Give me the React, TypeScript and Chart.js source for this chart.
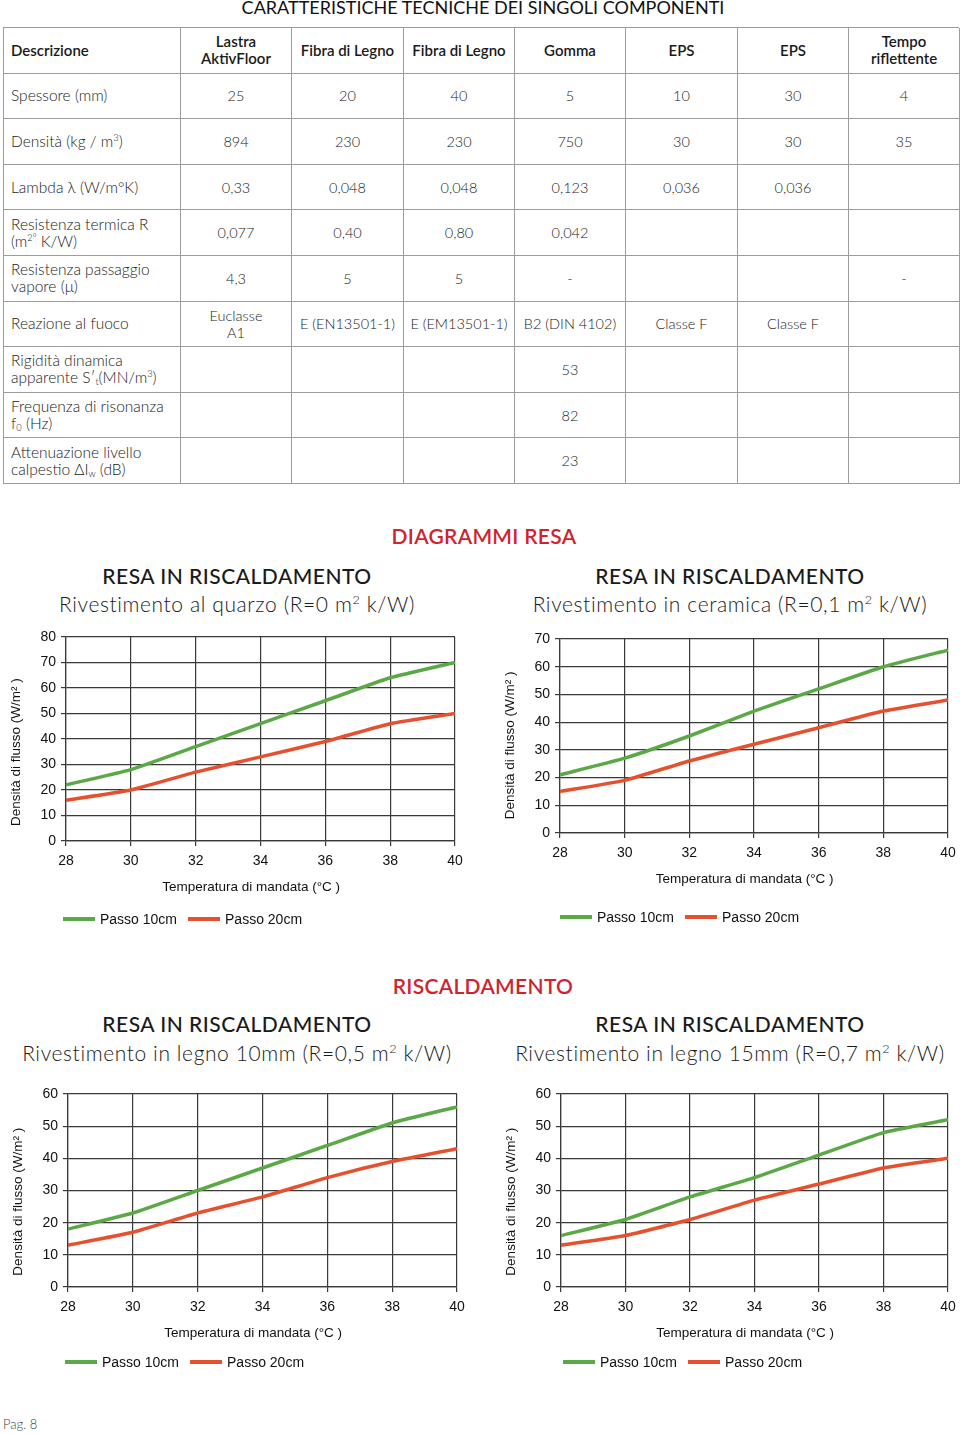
import React, { useEffect, useRef } from "react";
import { Chart, registerables } from "chart.js";

Chart.register(...registerables);

// ---------- DATA ----------
const TEMPS = [28, 30, 32, 34, 36, 38, 40];
const SERIES_LABELS = ["Passo 10cm", "Passo 20cm"];

const QUARZO_10 = [22, 28, 37, 46, 55, 64, 70];
const QUARZO_20 = [16, 20, 27, 33, 39, 46, 50];
const CERAMICA_10 = [21, 27, 35, 44, 52, 60, 66];
const CERAMICA_20 = [15, 19, 26, 32, 38, 44, 48];
const LEGNO10_10 = [18, 23, 30, 37, 44, 51, 56];
const LEGNO10_20 = [13, 17, 23, 28, 34, 39, 43];
const LEGNO15_10 = [16, 21, 28, 34, 41, 48, 52];
const LEGNO15_20 = [13, 16, 21, 27, 32, 37, 40];

const Y_TITLE = "Densità di flusso (W/m² )";
const X_TITLE = "Temperatura di mandata (°C )";

const TABLE_TITLE = "CARATTERISTICHE TECNICHE DEI SINGOLI COMPONENTI";
const TABLE_HEAD = ["Descrizione", "Lastra\nAktivFloor", "Fibra di Legno", "Fibra di Legno", "Gomma", "EPS", "EPS", "Tempo\nriflettente"];

const ROW_LABELS: React.ReactNode[] = [
  <>Spessore (mm)</>,
  <>Densità (kg / m<sup>3</sup>)</>,
  <>Lambda λ (W/m°K)</>,
  <>Resistenza termica R<br />(m<sup>2°</sup> K/W)</>,
  <>Resistenza passaggio<br />vapore (μ)</>,
  <>Reazione al fuoco</>,
  <>Rigidità dinamica<br />apparente S′<sub>t</sub>(MN/m<sup>3</sup>)</>,
  <>Frequenza di risonanza<br />f<sub>0</sub> (Hz)</>,
  <>Attenuazione livello<br />calpestio ΔI<sub>w</sub> (dB)</>,
];

const SPESSORE = ["25", "20", "40", "5", "10", "30", "4"];
const DENSITA = ["894", "230", "230", "750", "30", "30", "35"];
const LAMBDA = ["0,33", "0,048", "0,048", "0,123", "0,036", "0,036", ""];
const RESISTENZA = ["0,077", "0,40", "0,80", "0,042", "", "", ""];
const VAPORE = ["4,3", "5", "5", "-", "", "", "-"];
const FUOCO = ["Euclasse\nA1", "E (EN13501-1)", "E (EM13501-1)", "B2 (DIN 4102)", "Classe F", "Classe F", ""];
const RIGIDITA = ["", "", "", "53", "", "", ""];
const FREQUENZA = ["", "", "", "82", "", "", ""];
const ATTENUAZIONE = ["", "", "", "23", "", "", ""];
const ROW_VALUES = [SPESSORE, DENSITA, LAMBDA, RESISTENZA, VAPORE, FUOCO, RIGIDITA, FREQUENZA, ATTENUAZIONE];

// ---------- STYLE ----------
const GREEN = "#5aa846";
const RED = "#e5512f";
const GRID = "#3a3a3a";
const HEAD_RED = "#d0232e";
const CHART_FONT = '"Liberation Sans", Arial, sans-serif';
const PAGE_FONT = 'Lato, "Noto Sans", sans-serif';

type Spec = {
  left: number; top: number; width: number; height: number;
  area: [number, number, number, number];
  yMax: number; s10: number[]; s20: number[];
  yTitlePad: number; yTitleSpaces: number;
  legendDx: number; legendDy: number;
};

const X_AXIS_H = 54;

const SPECS: Spec[] = [
  { left: 0, top: 620, width: 480, height: 320, area: [66, 637, 455, 841], yMax: 80, s10: QUARZO_10, s20: QUARZO_20, yTitlePad: 8, yTitleSpaces: 7, legendDx: -3, legendDy: 78 },
  { left: 480, top: 620, width: 480, height: 320, area: [560, 639, 948, 833], yMax: 70, s10: CERAMICA_10, s20: CERAMICA_20, yTitlePad: 22, yTitleSpaces: 5, legendDx: 0, legendDy: 84 },
  { left: 0, top: 1075, width: 480, height: 310, area: [68, 1094, 457, 1287], yMax: 60, s10: LEGNO10_10, s20: LEGNO10_20, yTitlePad: 10, yTitleSpaces: 6, legendDx: -3, legendDy: 75 },
  { left: 480, top: 1075, width: 480, height: 310, area: [561, 1094, 948, 1287], yMax: 60, s10: LEGNO15_10, s20: LEGNO15_20, yTitlePad: 23, yTitleSpaces: 6, legendDx: 2, legendDy: 75 },
];

function LineChart({ spec }: { spec: Spec }) {
  const ref = useRef<HTMLCanvasElement | null>(null);
  useEffect(() => {
    const canvas = ref.current!;
    const [L, T, R, B] = spec.area;
    const padTop = T - spec.top;
    const padRight = spec.left + spec.width - R;
    const yW = L - spec.left;
    const padBottom = spec.top + spec.height - (B + X_AXIS_H);

    const legendPlugin = {
      id: "customLegend",
      afterDraw(chart: any) {
        const { ctx, chartArea } = chart;
        let x = chartArea.left + spec.legendDx;
        const y = chartArea.bottom + spec.legendDy;
        ctx.save();
        ctx.font = `14px ${CHART_FONT}`;
        ctx.textBaseline = "middle";
        ctx.textAlign = "left";
        chart.data.datasets.forEach((ds: any) => {
          ctx.strokeStyle = ds.borderColor;
          ctx.lineWidth = 4;
          ctx.beginPath();
          ctx.moveTo(x, y);
          ctx.lineTo(x + 32, y);
          ctx.stroke();
          x += 37;
          ctx.fillStyle = "#111";
          ctx.fillText(ds.label, x, y + 1);
          x += ctx.measureText(ds.label).width + 11;
        });
        ctx.restore();
      },
    };

    const tickFont = { family: CHART_FONT, size: 14 };
    const chart = new Chart(canvas, {
      type: "line",
      data: {
        datasets: [
          { label: SERIES_LABELS[0], data: TEMPS.map((t, i) => ({ x: t, y: spec.s10[i] })), borderColor: GREEN, backgroundColor: GREEN, borderWidth: 3.5, pointRadius: 0, tension: 0.15 },
          { label: SERIES_LABELS[1], data: TEMPS.map((t, i) => ({ x: t, y: spec.s20[i] })), borderColor: RED, backgroundColor: RED, borderWidth: 3.5, pointRadius: 0, tension: 0.15 },
        ],
      },
      options: {
        animation: false,
        responsive: false,
        maintainAspectRatio: false,
        layout: { padding: { left: 0, top: padTop, right: padRight, bottom: padBottom } },
        plugins: { legend: { display: false }, tooltip: { enabled: false } },
        scales: {
          x: {
            type: "linear",
            min: 28,
            max: 40,
            ticks: { stepSize: 2, color: "#111", font: tickFont, padding: 7, maxRotation: 0 },
            grid: { color: GRID, lineWidth: 1.2, tickLength: 5 },
            border: { color: GRID, width: 1.2 },
            title: { display: true, text: X_TITLE + "     ", color: "#111", font: { family: CHART_FONT, size: 13.5 }, padding: { top: 0, bottom: 0 } },
            afterFit: (s: any) => { s.height = X_AXIS_H; s.paddingLeft = 0; s.paddingRight = 0; },
          },
          y: {
            min: 0,
            max: spec.yMax,
            ticks: { stepSize: 10, color: "#111", font: tickFont, padding: 5 },
            grid: { color: GRID, lineWidth: 1.2, tickLength: 5 },
            border: { color: GRID, width: 1.2 },
            title: { display: true, text: Y_TITLE + " ".repeat(spec.yTitleSpaces), color: "#111", font: { family: CHART_FONT, size: 13.5 }, padding: { top: spec.yTitlePad, bottom: 0 } },
            afterFit: (s: any) => { s.width = yW; s.paddingTop = 0; s.paddingBottom = 0; },
          },
        },
      } as any,
      plugins: [legendPlugin],
    });
    return () => chart.destroy();
  }, [spec]);
  return (
    <canvas
      ref={ref}
      width={spec.width}
      height={spec.height}
      style={{ position: "absolute", left: spec.left, top: spec.top, width: spec.width, height: spec.height, display: "block" }}
    />
  );
}

function Text({ cx, cy, children, size, weight = 400, color = "#1a1a1a", spacing = 0 }: any) {
  return (
    <div
      style={{
        position: "absolute", left: cx - 400, width: 800, top: cy - size * 0.6, height: size * 1.2,
        lineHeight: `${size * 1.2}px`, fontSize: size, fontWeight: weight, color, textAlign: "center",
        letterSpacing: spacing, whiteSpace: "nowrap",
      }}
    >
      {children}
    </div>
  );
}

const COL_W = [177, 111, 112, 111, 111, 112, 111, 111];
const ROW_H = 45.6;
const BORDER = "1.5px solid #9c9c9c";

function Table() {
  const cellBase: React.CSSProperties = {
    boxSizing: "border-box", borderRight: BORDER, borderBottom: BORDER,
    display: "flex", alignItems: "center", whiteSpace: "pre-line", lineHeight: "17px",
  };
  return (
    <div
      style={{
        position: "absolute", left: 3, top: 27, width: 956,
        display: "grid", gridTemplateColumns: COL_W.map((w) => `${w}px`).join(" "),
        gridTemplateRows: `repeat(10, ${ROW_H}px)`, borderLeft: BORDER, borderTop: BORDER,
        boxSizing: "border-box", color: "#2a2a2a",
      }}
    >
      {TABLE_HEAD.map((h, i) => (
        <div key={"h" + i} style={{ ...cellBase, fontSize: 15, fontWeight: 600, justifyContent: i === 0 ? "flex-start" : "center", textAlign: i === 0 ? "left" : "center", paddingLeft: i === 0 ? 7 : 0, color: "#1a1a1a" }}>
          {h}
        </div>
      ))}
      {ROW_VALUES.map((vals, r) => (
        <React.Fragment key={"r" + r}>
          <div style={{ ...cellBase, fontSize: 15.5, fontWeight: 300, paddingLeft: 7, color: "#222" }}>
            <div>{ROW_LABELS[r]}</div>
          </div>
          {vals.map((v, c) => (
            <div key={c} style={{ ...cellBase, fontSize: 14.5, fontWeight: 300, justifyContent: "center", textAlign: "center", color: "#222" }}>
              {v}
            </div>
          ))}
        </React.Fragment>
      ))}
    </div>
  );
}

export default function App() {
  return (
    <div
      style={{
        position: "absolute", left: 0, top: 0, width: 960, height: 1434, background: "#fff",
        fontFamily: PAGE_FONT, overflow: "hidden",
      }}
    >
      <style>{`sup,sub{font-size:0.6em;line-height:0;} sup{vertical-align:0.6em;} sub{vertical-align:-0.25em;}`}</style>
      <Text cx={483} cy={8} size={18} weight={400} color="#111">{TABLE_TITLE}</Text>
      <Table />

      <Text cx={484} cy={536} size={21} weight={600} color={HEAD_RED} spacing={0.3}>DIAGRAMMI RESA</Text>
      <Text cx={237} cy={576} size={21} weight={500} spacing={0.5}>RESA IN RISCALDAMENTO</Text>
      <Text cx={237} cy={604} size={21} weight={300} spacing={0.6}>Rivestimento al quarzo (R=0 m<sup>2</sup> k/W)</Text>
      <Text cx={730} cy={576} size={21} weight={500} spacing={0.5}>RESA IN RISCALDAMENTO</Text>
      <Text cx={730} cy={604} size={21} weight={300} spacing={0.6}>Rivestimento in ceramica (R=0,1 m<sup>2</sup> k/W)</Text>

      <Text cx={483} cy={986} size={21} weight={600} color={HEAD_RED} spacing={0.3}>RISCALDAMENTO</Text>
      <Text cx={237} cy={1024} size={21} weight={500} spacing={0.5}>RESA IN RISCALDAMENTO</Text>
      <Text cx={237} cy={1053} size={21} weight={300} spacing={0.6}>Rivestimento in legno 10mm (R=0,5 m<sup>2</sup> k/W)</Text>
      <Text cx={730} cy={1024} size={21} weight={500} spacing={0.5}>RESA IN RISCALDAMENTO</Text>
      <Text cx={730} cy={1053} size={21} weight={300} spacing={0.6}>Rivestimento in legno 15mm (R=0,7 m<sup>2</sup> k/W)</Text>

      {SPECS.map((s, i) => (
        <LineChart key={i} spec={s} />
      ))}

      <div style={{ position: "absolute", left: 3, top: 1416, fontSize: 13, color: "#444", fontWeight: 300 }}>Pag. 8</div>
    </div>
  );
}
